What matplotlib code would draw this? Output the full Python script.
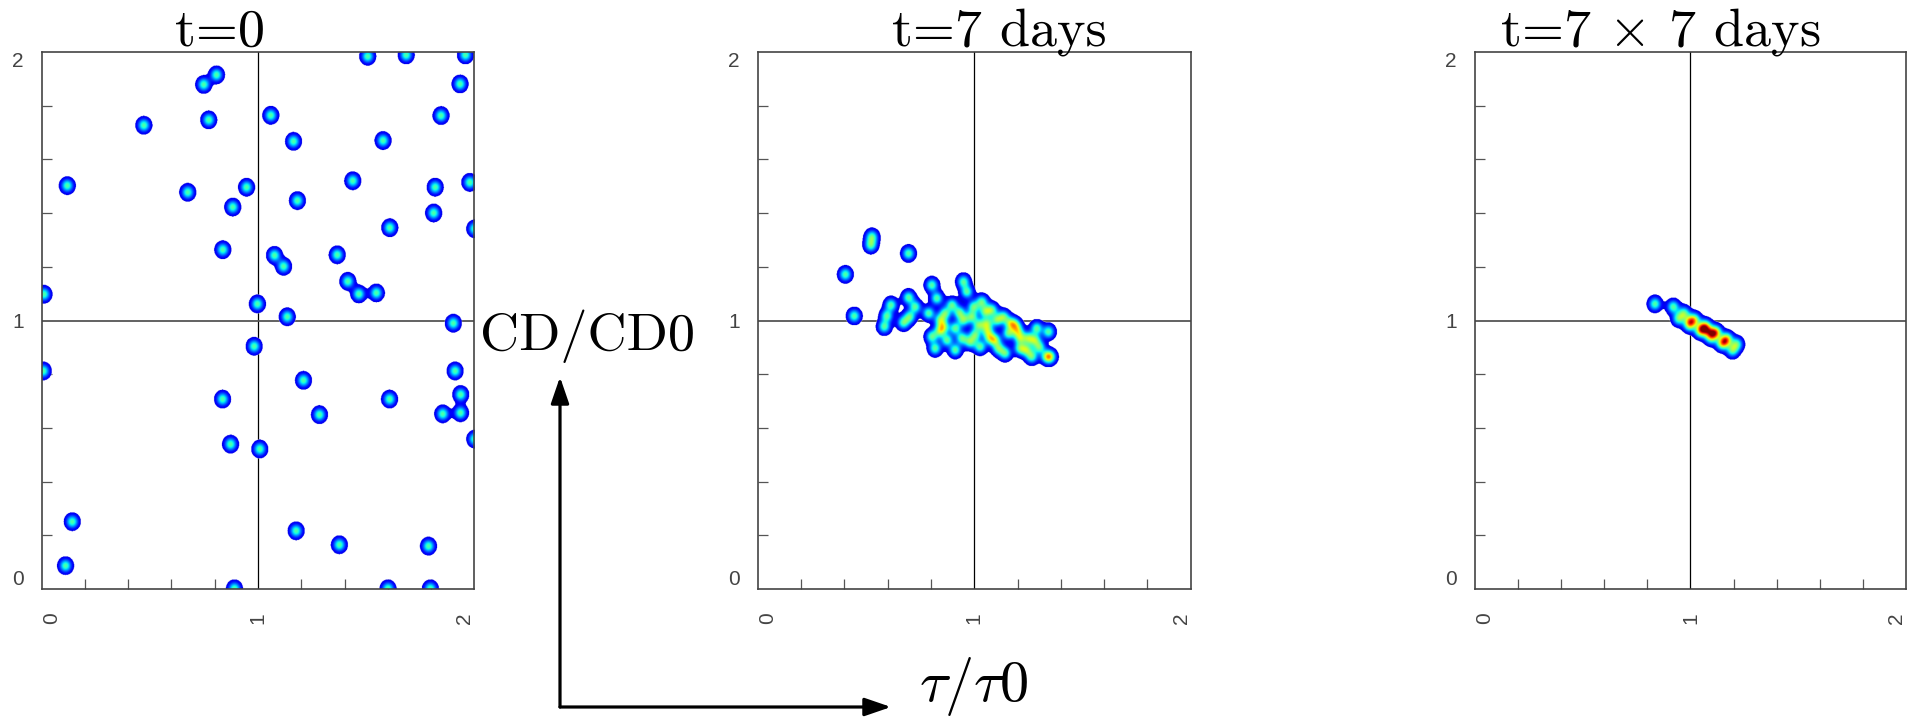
import numpy as np
import matplotlib
matplotlib.use("Agg")
import matplotlib.pyplot as plt
from matplotlib.patches import FancyArrowPatch
from matplotlib.colors import Normalize

# ---------------- data ----------------
p1_x = [1.505, 1.683, 1.957, 0.806, 0.747, 1.932, 1.057, 1.844, 0.770, 0.470,
        1.162, 1.576, 0.116, 0.673, 0.945, 1.436, 1.817, 1.977, 0.881, 1.180,
        1.810, 1.607, 2.000, 0.835, 1.074, 1.116, 1.364, 1.413, 1.464, 1.545,
        0.008, 0.995, 1.133, 1.901, 0.980, 0.005, 1.208, 1.909, 0.834, 1.606,
        1.935, 1.282, 1.852, 1.934, 2.000, 0.871, 1.006, 0.139, 1.174, 1.374,
        1.786, 0.108, 0.889, 1.599, 1.795]
p1_y = [1.985, 1.990, 1.990, 1.916, 1.880, 1.882, 1.765, 1.764, 1.748, 1.728,
        1.668, 1.671, 1.503, 1.478, 1.497, 1.521, 1.497, 1.515, 1.423, 1.447,
        1.401, 1.346, 1.342, 1.264, 1.243, 1.202, 1.245, 1.146, 1.099, 1.103,
        1.098, 1.062, 1.014, 0.990, 0.904, 0.812, 0.777, 0.812, 0.707, 0.707,
        0.724, 0.649, 0.652, 0.656, 0.558, 0.539, 0.521, 0.250, 0.216, 0.164,
        0.159, 0.086, 0.000, 0.000, 0.000]

p2_x = [0.403, 0.444, 0.521, 0.526, 0.695, 0.614, 0.595, 0.583, 0.695, 0.726,
        0.700, 0.672, 0.803, 0.826, 0.949, 0.965, 0.788, 0.842, 0.896, 0.865,
        0.857, 0.911, 0.803, 0.818, 0.873, 0.911, 0.942, 0.949, 0.988, 0.996,
        1.034, 1.049, 1.019, 1.003, 1.057, 1.072, 1.096, 1.103, 1.134, 1.157,
        1.111, 1.142, 1.188, 1.211, 1.249, 1.211, 1.242, 1.265, 1.288, 1.280,
        1.342, 1.335, 1.350, 1.026, 0.840, 0.930, 1.080, 1.165, 1.200, 1.300,
        0.980, 1.060]
p2_y = [1.172, 1.017, 1.281, 1.312, 1.250, 1.058, 1.017, 0.977, 1.086, 1.051,
        1.014, 0.992, 1.132, 1.083, 1.145, 1.107, 1.027, 1.002, 1.058, 1.027,
        0.977, 0.971, 0.940, 0.896, 0.927, 0.890, 0.934, 1.002, 1.014, 1.051,
        1.070, 1.033, 0.983, 0.946, 0.990, 0.934, 0.927, 1.002, 1.014, 0.952,
        0.896, 0.878, 0.983, 0.934, 0.934, 0.896, 0.890, 0.865, 0.971, 0.927,
        0.958, 0.865, 0.865, 0.902, 0.960, 1.030, 1.040, 0.990, 0.960, 0.900,
        0.920, 0.960]

p3_x = [0.835, 0.920, 0.970, 1.020, 1.070, 1.120, 1.170, 1.215,
        0.945, 0.995, 1.045, 1.095, 1.145, 1.195,
        1.000, 1.080, 1.160, 1.055, 1.108]
p3_y = [1.062, 1.051, 1.027, 1.004, 0.980, 0.957, 0.933, 0.912,
        1.007, 0.983, 0.960, 0.936, 0.913, 0.889,
        0.997, 0.960, 0.922, 0.971, 0.953]

panel_x = [p1_x, p2_x, p3_x]
panel_y = [p1_y, p2_y, p3_y]
titles = ["t=0", "t=7 days", r"t=7 $\times$ 7 days"]
tick_vals = [0, 1, 2]
tick_text = ["0", "1", "2"]
minor_vals = [0.2, 0.4, 0.6, 0.8, 1.2, 1.4, 1.6, 1.8]
ylabel_text = "CD/CD0"
xlabel_text = r"$\tau/\tau0$"

# ---------------- style ----------------
SIG_X = 0.0182
SIG_Y = 0.0160
CUT = 0.08
VMIN = -0.12
VMAX = 2.37
W, H = 1908, 721

plt.rcParams["mathtext.fontset"] = "cm"
fig = plt.figure(figsize=(W / 100, H / 100), dpi=100)

def fx(px):
    return px / W

def fy(py):
    return 1 - py / H

axes_left = [41.7, 757.8, 1475.0]
axes_width = [432.6, 433.0, 431.0]
top_px, bot_px = 52.0, 589.0

cmap = plt.get_cmap("jet").copy()
cmap.set_bad((1, 1, 1, 0))

grid = np.linspace(0, 2, 1000)
GX, GY = np.meshgrid(grid, grid)

title_cx = [220, 999, 1660]

for i in range(3):
    ax = fig.add_axes([fx(axes_left[i]), fy(bot_px), fx(axes_width[i]), (bot_px - top_px) / H])
    Z = np.zeros_like(GX)
    for x, y in zip(panel_x[i], panel_y[i]):
        Z += np.exp(-((GX - x) ** 2 / (2 * SIG_X ** 2) + (GY - y) ** 2 / (2 * SIG_Y ** 2)))
    Z = np.ma.masked_less(Z, CUT)
    ax.imshow(Z, origin="lower", extent=[0, 2, 0, 2], cmap=cmap,
              norm=Normalize(vmin=VMIN, vmax=VMAX),
              aspect="auto", interpolation="bilinear", zorder=2)
    ax.axvline(1, color="black", lw=0.9, zorder=1)
    ax.axhline(1, color="#555555", lw=1.3, zorder=1)
    ax.set_xlim(0, 2)
    ax.set_ylim(0, 2)
    for sp in ax.spines.values():
        sp.set_color("#444444")
        sp.set_linewidth(1.2)
    ax.set_xticks(tick_vals)
    ax.set_yticks(tick_vals)
    ax.set_xticks(minor_vals, minor=True)
    ax.set_yticks(minor_vals, minor=True)
    ax.set_xticklabels(tick_text, rotation=90, fontsize=15, color="#444444",
                       family="Liberation Sans")
    ax.set_yticklabels(tick_text, fontsize=15, color="#444444", family="Liberation Sans")
    ax.tick_params(which="major", length=0)
    ax.tick_params(axis="x", which="major", pad=17)
    ax.tick_params(axis="y", which="major", pad=13)
    ax.tick_params(which="minor", direction="in", length=7.5, width=0.9, color="#555555")
    xl = ax.get_xticklabels()
    xl[0].set_ha("left")
    xl[2].set_ha("right")
    yl = ax.get_yticklabels()
    yl[0].set_va("bottom")
    yl[2].set_va("top")
    fig.text(fx(title_cx[i]), fy(46), titles[i], ha="center", va="baseline",
             fontsize=39, family="cmr10")

fig.text(fx(480), fy(350), ylabel_text, ha="left", va="baseline", fontsize=39, family="cmr10")
fig.text(fx(919), fy(701), xlabel_text, ha="left", va="baseline", fontsize=42)

ox, oy = 560, 707
for tx, ty in [(560, 377), (891, 707)]:
    arr = FancyArrowPatch((fx(ox), fy(oy)), (fx(tx), fy(ty)), transform=fig.transFigure,
                          arrowstyle="-|>,head_length=1.6,head_width=0.55",
                          mutation_scale=10, lw=2.3, color="black",
                          shrinkA=0, shrinkB=0)
    fig.add_artist(arr)

fig.savefig("out.png", dpi=100)
